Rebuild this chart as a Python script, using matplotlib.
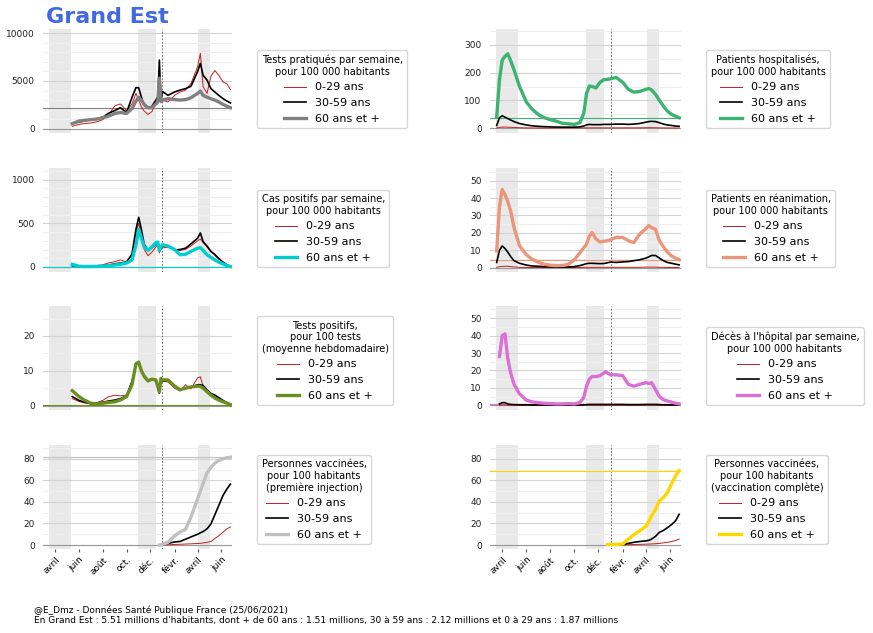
import matplotlib
matplotlib.use("Agg")
import matplotlib.pyplot as plt
import matplotlib.dates as mdates
import matplotlib.ticker as mticker
import numpy as np
import pandas as pd

N = None
dates = ["2020-03-18", "2020-03-25", "2020-04-01", "2020-04-08", "2020-04-15", "2020-04-22",
         "2020-05-01", "2020-05-15", "2020-06-01", "2020-06-15", "2020-07-01", "2020-07-15",
         "2020-08-01", "2020-08-15", "2020-09-01", "2020-09-15", "2020-10-01", "2020-10-15",
         "2020-10-25", "2020-11-01", "2020-11-08", "2020-11-15", "2020-11-25", "2020-12-05",
         "2020-12-15", "2020-12-20", "2020-12-24", "2020-12-28", "2021-01-01", "2021-01-15",
         "2021-02-01", "2021-02-15", "2021-03-01", "2021-03-15", "2021-04-01", "2021-04-08",
         "2021-04-15", "2021-04-25", "2021-05-05", "2021-05-15", "2021-05-25", "2021-06-05",
         "2021-06-15", "2021-06-24"]

# Tests per week per 100k
tests_0_29 = [N, N, N, N, N, N, N, 250, 450, 530, 600, 700, 950, 1400, 2400, 2600, 1900, 2600,
              3700, 3000, 2300, 1850, 1500, 1800, 2700, 3000, 5100, 2700, 3000, 2800, 3500, 3850,
              4050, 4750, 6500, 7900, 4400, 3700, 5500, 6100, 5600, 4900, 4700, 4100]
tests_30_59 = [N, N, N, N, N, N, N, 530, 700, 800, 950, 1000, 1200, 1600, 1900, 2200, 1700, 3300,
               4300, 4300, 3300, 2450, 2200, 2350, 3000, 3300, 7200, 2900, 3900, 3500, 3850, 4050,
               4200, 4450, 6000, 6850, 5600, 5100, 4200, 3850, 3500, 3150, 2900, 2700]
tests_60 = [N, N, N, N, N, N, N, 530, 800, 880, 950, 1000, 1150, 1300, 1600, 1700, 1600, 2100,
            2900, 3300, 3000, 2550, 2200, 2200, 2600, 2800, 5300, 2900, 3000, 3150, 3050, 3000,
            3050, 3250, 3700, 3950, 3500, 3300, 3150, 3000, 2800, 2550, 2350, 2200]

# Hospitalised per 100k
hosp_0_29 = [1, 3, 4, 4.5, 4, 3.5, 3, 2, 1.5, 1.2, 1, 1, 1, 1, 1, 1, 1, 1.2, 1.4, 1.5, 1.5, 1.5,
             1.5, 1.5, 1.5, 1.5, 1.5, 1.5, 1.5, 1.5, 1.5, 1.5, 1.5, 1.6, 2, 2, 2, 1.8, 1.5, 1.3,
             1.2, 1.1, 1, 1]
hosp_30_59 = [10, 38, 45, 40, 35, 30, 24, 17, 12, 9, 7, 6, 5, 4.5, 4, 4, 4, 5, 8, 12, 14, 13, 13,
              13, 14, 14, 14, 14, 14, 15, 15, 14, 15, 17, 22, 24, 25, 24, 20, 15, 12, 10, 8, 7]
hosp_60 = [41, 175, 245, 258, 268, 245, 210, 150, 95, 70, 50, 39, 31, 26, 18, 16, 14, 20, 53, 125,
           152, 150, 145, 165, 175, 175, 176, 177, 178, 183, 165, 140, 130, 132, 140, 143, 138,
           122, 100, 80, 62, 50, 43, 38]

# Positive cases per week per 100k
cases_0_29 = [N, N, N, N, N, N, N, 10, 5, 5, 8, 15, 25, 45, 60, 80, 60, 140, 380, 500, 360, 200,
              130, 170, 230, 260, 160, 200, 220, 225, 195, 190, 200, 240, 300, 320, 280, 230, 170,
              150, 100, 55, 25, 6]
cases_30_59 = [N, N, N, N, N, N, N, 15, 5, 3, 5, 8, 12, 20, 35, 45, 55, 150, 430, 570, 430, 260,
               190, 220, 260, 280, 190, 220, 240, 240, 195, 200, 215, 265, 330, 390, 290, 240,
               180, 140, 95, 55, 25, 6]
cases_60 = [N, N, N, N, N, N, N, 30, 8, 5, 5, 6, 8, 15, 22, 30, 45, 80, 250, 430, 330, 230, 190,
            230, 280, 285, 190, 230, 255, 240, 200, 140, 145, 180, 215, 220, 190, 140, 110, 80,
            55, 35, 15, 5]

# ICU per 100k
icu_0_29 = [0.2, 0.5, 0.7, 0.8, 0.8, 0.6, 0.4, 0.2, 0.1, 0.1, 0.1, 0.1, 0.1, 0.1, 0.1, 0.1, 0.1,
            0.1, 0.2, 0.2, 0.2, 0.2, 0.2, 0.2, 0.2, 0.2, 0.2, 0.2, 0.2, 0.2, 0.2, 0.2, 0.2, 0.2,
            0.3, 0.3, 0.3, 0.3, 0.2, 0.2, 0.1, 0.1, 0.1, 0.1]
icu_30_59 = [3, 10, 12.5, 11, 9, 6.5, 4, 2.5, 1.5, 1.0, 0.8, 0.6, 0.5, 0.4, 0.3, 0.4, 0.6, 1.2,
             1.8, 2.3, 2.5, 2.5, 2.4, 2.3, 2.4, 2.6, 2.8, 3, 3.2, 3.0, 3.3, 3.5, 4.0, 4.5, 5.5,
             6.2, 7.0, 7.0, 5.5, 4.0, 3.0, 2.5, 2.0, 1.6]
icu_60 = [9.6, 35, 45, 42, 38, 33, 23, 12.5, 7.5, 5, 3.2, 2.0, 1.4, 1.2, 1.3, 1.8, 4.5, 8.5, 11.5,
          13.5, 18, 20.2, 16.5, 14.8, 15.2, 15.4, 15.5, 15.8, 16.0, 17.5, 17.3, 15.5, 14.4, 19,
          22.5, 24.2, 23, 22, 15.5, 12, 9.0, 6.7, 5.5, 4.6]

# Positivity rate (%)
pos_0_29 = [N, N, N, N, N, N, N, 2.0, 1.2, 0.8, 0.5, 0.8, 1.5, 2.5, 3.0, 2.8, 3.0, 7.0, 11.5,
            12.0, 10.0, 8.0, 7.0, 7.5, 7.0, 5.5, 4.5, 7.3, 7.0, 6.8, 5.0, 4.2, 6.0, 4.8, 8.0, 8.3,
            5.5, 4.2, 3.5, 3.0, 2.2, 1.4, 0.8, 0.4]
pos_30_59 = [N, N, N, N, N, N, N, 2.6, 1.5, 1.0, 0.6, 0.7, 1.0, 1.3, 1.6, 2.0, 2.8, 7.0, 12.0,
             12.3, 10.0, 8.2, 7.0, 7.5, 7.2, 5.2, 3.6, 7.5, 7.0, 7.2, 5.5, 4.6, 5.0, 5.3, 6.0,
             6.0, 5.8, 4.5, 3.5, 3.0, 2.3, 1.5, 0.8, 0.3]
pos_60 = [N, N, N, N, N, N, N, 4.3, 2.6, 1.6, 0.7, 0.5, 0.7, 0.9, 1.1, 1.6, 2.6, 6.0, 12.0, 12.5,
          10.0, 8.5, 7.1, 7.6, 7.4, 5.5, 4.0, 7.8, 7.4, 7.4, 5.6, 4.6, 5.0, 5.4, 5.6, 5.5, 5.0,
          4.0, 3.0, 2.2, 1.6, 1.1, 0.7, 0.3]

# Hospital deaths per week per 100k
deaths_0_29 = [N, 0.05, 0.1, 0.1, 0.05, 0.05, 0.05, 0.0, 0.0, 0.0, 0.0, 0.0, 0.0, 0.0, 0.0, 0.0,
               0.0, 0.0, 0.0, 0.05, 0.05, 0.05, 0.05, 0.05, 0.05, 0.05, 0.05, 0.05, 0.05, 0.05,
               0.05, 0.05, 0.05, 0.05, 0.05, 0.05, 0.05, 0.05, 0.0, 0.0, 0.0, 0.0, 0.0, 0.0]
deaths_30_59 = [N, 0.8, 1.5, 1.5, 0.8, 0.5, 0.4, 0.3, 0.3, 0.2, 0.2, 0.2, 0.2, 0.2, 0.2, 0.2,
                0.2, 0.2, 0.3, 0.4, 0.5, 0.5, 0.5, 0.5, 0.5, 0.5, 0.5, 0.5, 0.5, 0.5, 0.5, 0.4,
                0.4, 0.4, 0.5, 0.5, 0.5, 0.5, 0.4, 0.3, 0.3, 0.2, 0.2, 0.2]
deaths_60 = [N, 28, 40, 41, 27, 19, 12, 6.5, 3, 2, 1.5, 1.2, 1.0, 0.8, 0.8, 1.0, 0.8, 1.5, 4.5,
             11, 15, 16.5, 16.5, 17, 18.5, 19.3, 18.5, 18, 17.5, 17.5, 17, 12, 11, 12, 13, 12.5,
             13, 9, 5, 3.2, 2.5, 1.8, 1.2, 0.8]

# Vaccinated (first dose) per 100
vacc1_0_29 = [N] * 26 + [0, 0, 0.1, 0.2, 0.5, 0.7, 0.9, 1.1, 1.4, 1.6, 1.9, 2.5, 3.2, 6, 8.5, 12,
                         15, 16.8]
vacc1_30_59 = [N] * 26 + [0, 0, 0.3, 1.5, 2.8, 3.3, 5.4, 7.5, 10, 11.3, 12.5, 15, 19.5, 28,
                          36.5, 46, 52, 56.5]
vacc1_60 = [N] * 26 + [0, 0.2, 0.6, 2.5, 8.5, 12, 14.5, 26, 43, 50, 57, 67, 72, 76, 78.5, 80, 81,
                       81.5]

# Fully vaccinated per 100
vacc2_0_29 = [N] * 26 + [0, 0, 0, 0, 0.1, 0.3, 0.5, 0.6, 0.8, 0.9, 1.0, 1.2, 1.5, 2.0, 2.5, 3.2,
                         4.2, 5.5]
vacc2_30_59 = [N] * 26 + [0, 0, 0, 0, 0.5, 1.5, 2.5, 3.2, 3.9, 4.3, 5.5, 8, 11.8, 13.5, 16, 19,
                          22.5, 28.5]
vacc2_60 = [N] * 26 + [0.5, 0.5, 0.5, 0.5, 1, 5.5, 9.5, 13, 17.5, 22, 27, 33, 41, 44, 48.5, 57,
                       64, 69]

age_labels = ["0-29 ans", "30-59 ans", "60 ans et +"]
month_ticks = ["2020-04-01", "2020-06-01", "2020-08-01", "2020-10-01", "2020-12-01",
               "2021-02-01", "2021-04-01", "2021-06-01"]
month_labels = ["avril", "juin", "août", "oct.", "déc.", "févr.", "avril", "juin"]
lockdowns = [("2020-03-17", "2020-05-11"), ("2020-10-30", "2020-12-15"), ("2021-04-03", "2021-05-03")]
marker_date = "2021-01-01"

panels = [
    # (row, col, series, colour, title, ylim, major, minor)
    (0, 0, (tests_0_29, tests_30_59, tests_60), "grey",
     "Tests pratiqués par semaine,\npour 100 000 habitants", (-450, 10450), 5000, 1000),
    (0, 1, (hosp_0_29, hosp_30_59, hosp_60), "mediumseagreen",
     "Patients hospitalisés,\npour 100 000 habitants", (-17, 357), 100, 50),
    (1, 0, (cases_0_29, cases_30_59, cases_60), "darkturquoise",
     "Cas positifs par semaine,\npour 100 000 habitants", (-58, 1135), 500, 100),
    (1, 1, (icu_0_29, icu_30_59, icu_60), "darksalmon",
     "Patients en réanimation,\npour 100 000 habitants", (-2.5, 57.3), 10, 5),
    (2, 0, (pos_0_29, pos_30_59, pos_60), "olivedrab",
     "Tests positifs,\npour 100 tests\n(moyenne hebdomadaire)", (-1.25, 28.6), 10, 5),
    (2, 1, (deaths_0_29, deaths_30_59, deaths_60), "orchid",
     "Décès à l'hôpital par semaine,\npour 100 000 habitants", (-2.7, 57), 10, 5),
    (3, 0, (vacc1_0_29, vacc1_30_59, vacc1_60), "silver",
     "Personnes vaccinées,\npour 100 habitants\n(première injection)", (-3.7, 92.8), 20, 10),
    (3, 1, (vacc2_0_29, vacc2_30_59, vacc2_60), "gold",
     "Personnes vaccinées,\npour 100 habitants\n(vaccination complète)", (-3.7, 92.8), 20, 10),
]

W, H = 873, 633
fig = plt.figure(figsize=(W / 100, H / 100), dpi=100)
x = pd.to_datetime(dates)

col_left = [43, 490]
col_width = [189, 190.7]
row_top = [29, 168, 306, 445]
row_h = 104

for row, col, series, colour, title, ylim, major, minor in panels:
    left = col_left[col] / W
    bottom = 1 - (row_top[row] + row_h) / H
    ax = fig.add_axes([left, bottom, col_width[col] / W, row_h / H])
    ax.set_axisbelow(True)
    for a, b in lockdowns:
        ax.axvspan(pd.Timestamp(a), pd.Timestamp(b), color="#e9e9e9", lw=0, zorder=0)
    ax.axvline(pd.Timestamp(marker_date), color="#555555", lw=0.6, ls=(0, (2, 2)), zorder=1)
    ax.axhline(0, color="#999999", lw=0.8, zorder=1)
    s0 = np.array(series[0], dtype=float)
    s1 = np.array(series[1], dtype=float)
    s2 = np.array(series[2], dtype=float)
    last = s2[~np.isnan(s2)][-1]
    ax.axhline(last, color=colour, lw=0.8, zorder=1.5)
    ax.plot(x, s0, color="#c41e1e", lw=0.7, label=age_labels[0], zorder=3)
    ax.plot(x, s1, color="black", lw=1.2, label=age_labels[1], zorder=3)
    ax.plot(x, s2, color=colour, lw=2.4, label=age_labels[2], zorder=4)
    ax.set_xlim(pd.Timestamp("2020-03-01"), pd.Timestamp("2021-06-28"))
    ax.set_ylim(*ylim)
    ax.yaxis.set_major_locator(mticker.MultipleLocator(major))
    ax.yaxis.set_minor_locator(mticker.MultipleLocator(minor))
    ax.grid(True, which="major", axis="y", color="#d3d3d3", lw=0.8)
    ax.grid(True, which="minor", axis="y", color="#eeeeee", lw=0.8)
    for sp in ax.spines.values():
        sp.set_visible(False)
    ax.tick_params(axis="y", which="both", length=0, labelsize=6.5, pad=6, labelcolor="#222222")
    ax.xaxis.set_major_locator(mticker.FixedLocator(mdates.date2num(pd.to_datetime(month_ticks))))
    if row == 3:
        ax.set_xticklabels(month_labels, rotation=45, ha="right", fontsize=6.5,
                           rotation_mode="anchor")
        ax.tick_params(axis="x", length=2.5, color="#555555", pad=2)
    else:
        ax.tick_params(axis="x", bottom=False, labelbottom=False)
    leg = ax.legend(title=title, loc="lower left", bbox_to_anchor=(1.133, 0.048),
                    borderaxespad=0, fontsize=8, title_fontsize=7, handlelength=2.0,
                    alignment="center")
    leg.get_title().set_multialignment("center")
    leg.get_frame().set_edgecolor("#cccccc")

fig.text(0.053, 0.963, "Grand Est", fontsize=16, fontweight="bold", color="royalblue",
         va="baseline", ha="left")
fig.text(0.039, 0.012,
         "@E_Dmz - Données Santé Publique France (25/06/2021)\n"
         "En Grand Est : 5.51 millions d'habitants, dont + de 60 ans : 1.51 millions, "
         "30 à 59 ans : 2.12 millions et 0 à 29 ans : 1.87 millions",
         fontsize=6.5, va="bottom", ha="left")

fig.savefig("out.png", dpi=100)
